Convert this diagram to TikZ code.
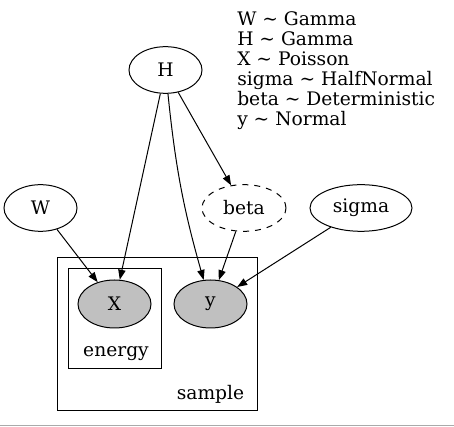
\documentclass[tikz,border=0pt]{standalone}
\usepackage{fontspec}
\setmainfont{DejaVu Serif}
\usetikzlibrary{arrows.meta,shapes.geometric}
\definecolor{obsgray}{HTML}{C0C0C0}
\definecolor{rulegray}{HTML}{AAAAAA}
\begin{document}
\begin{tikzpicture}[x=0.75pt, y=-0.75pt, font=\fontsize{14}{15}\selectfont,
        rv/.style={draw, ellipse, line width=0.75pt, inner sep=0pt, minimum width=54.75pt, minimum height=35pt},
        obs/.style={rv, fill=obsgray, minimum height=36pt},
        det/.style={rv, dashed, dash pattern=on 4.5pt off 4.5pt},
        plate/.style={draw, line width=0.75pt, inner sep=0pt},
        arr/.style={-{Triangle[length=7.5pt, width=5.5pt]}, line width=0.75pt}]
      \useasboundingbox (0,0) rectangle (454,427);
      % plates
      \node[plate, minimum width=150pt, minimum height=114.75pt] (sample) at (157,334.5) {};
      \node[plate, minimum width=69.75pt, minimum height=75pt] (energy) at (114.5,319) {};
      \node (samplelbl) at (210.5,394) {sample};
      \node (energylbl) at (116,354) {energy};
      % variables
      \node[rv] (H)     at (165.5,70) {H};
      \node[rv] (W)     at (40.5,208) {W};
      \node[det, minimum width=63pt] (beta) at (244,208) {beta};
      \node[rv, minimum width=76.5pt] (sigma) at (361,208) {sigma};
      \node[obs] (X)    at (114.5,304) {X};
      \node[obs] (y)    at (210.5,304) {y};
      % distributions
      \node[align=left, anchor=north west, inner sep=0pt] (dists) at (237,11)
        {W \char`~{} Gamma\\H \char`~{} Gamma\\X \char`~{} Poisson\\sigma \char`~{} HalfNormal\\beta \char`~{} Deterministic\\y \char`~{} Normal};
      % edges
      \draw[arr] (H) -- (X);
      \draw[arr] (H) to[bend right=5] (y);
      \draw[arr] (H) -- (beta);
      \draw[arr] (W) -- (X);
      \draw[arr] (beta) -- (y);
      \draw[arr] (sigma) -- (y);
      \draw[rulegray, line width=0.75pt] (0,426) -- (454,426);
    \end{tikzpicture}
\end{document}
